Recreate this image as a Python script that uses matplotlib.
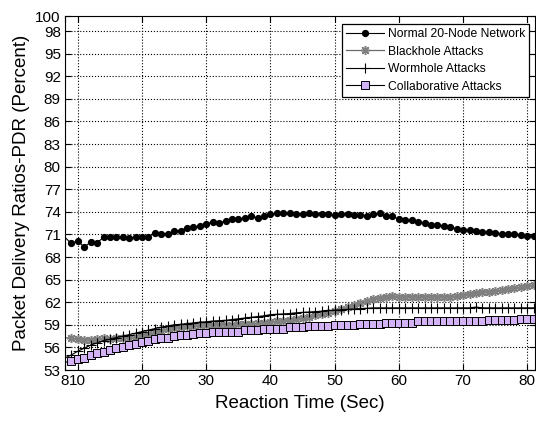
import numpy as np
import matplotlib
matplotlib.use('Agg')
import matplotlib.pyplot as plt

plt.rcParams['font.family'] = ['Liberation Sans', 'DejaVu Sans']

# reaction time, one sample per second
t = list(range(8, 82))

normal = [70.6, 69.8, 70.15, 69.3, 70.0, 69.9, 70.6, 70.7, 70.6, 70.7,
          70.5, 70.65, 70.6, 70.7, 71.25, 71.0, 71.1, 71.45, 71.5, 71.9,
          72.0, 72.1, 72.4, 72.7, 72.5, 72.8, 73.0, 73.0, 73.2, 73.4,
          73.2, 73.45, 73.7, 73.8, 73.9, 73.8, 73.75, 73.7, 73.8, 73.7,
          73.7, 73.7, 73.55, 73.7, 73.7, 73.6, 73.6, 73.5, 73.7, 73.8,
          73.4, 73.4, 73.0, 72.9, 72.9, 72.6, 72.5, 72.2, 72.2, 72.15,
          72.0, 71.75, 71.6, 71.6, 71.4, 71.3, 71.3, 71.25, 71.05, 71.1,
          71.0, 70.9, 70.75, 70.75]

blackhole = [57.3, 57.2, 57.1, 57.0, 57.0, 57.1, 57.2, 57.1, 57.2, 57.3,
             57.2, 57.4, 57.6, 57.8, 58.0, 58.2, 58.4, 58.6, 58.75, 58.85,
             58.9, 58.95, 59.0, 59.0, 59.0, 59.0, 59.0, 59.05, 59.1, 59.15,
             59.2, 59.25, 59.35, 59.45, 59.55, 59.7, 59.8, 59.95, 60.1, 60.25,
             60.4, 60.6, 60.85, 61.1, 61.35, 61.6, 61.9, 62.2, 62.45, 62.6,
             62.7, 62.8, 62.75, 62.75, 62.75, 62.75, 62.75, 62.75, 62.75, 62.75,
             62.75, 62.85, 63.0, 63.15, 63.25, 63.3, 63.4, 63.5, 63.6, 63.75,
             63.9, 64.0, 64.15, 64.3]

wormhole = [54.6, 55.0, 55.5, 55.9, 56.3, 56.6, 56.9, 57.1, 57.3, 57.5,
            57.7, 57.9, 58.1, 58.3, 58.5, 58.7, 58.85, 59.0, 59.05, 59.15,
            59.25, 59.35, 59.4, 59.5, 59.55, 59.6, 59.7, 59.8, 59.9, 60.0,
            60.1, 60.2, 60.35, 60.4, 60.45, 60.5, 60.6, 60.65, 60.7, 60.75,
            60.8, 60.9, 60.95, 61.0, 61.05, 61.1, 61.15, 61.2, 61.25, 61.25,
            61.25, 61.25, 61.25, 61.25, 61.25, 61.25, 61.25, 61.25, 61.25, 61.25,
            61.25, 61.25, 61.25, 61.25, 61.35, 61.25, 61.25, 61.25, 61.25, 61.25,
            61.25, 61.25, 61.25, 61.25]

collab = [54.0, 54.24, 54.46, 54.6, 54.95, 55.2, 55.4, 55.7, 55.9, 56.1,
          56.3, 56.5, 56.7, 56.9, 57.1, 57.2, 57.3, 57.55, 57.6, 57.7,
          57.8, 57.85, 57.95, 58.0, 58.0, 58.0, 58.0, 58.0, 58.3, 58.3,
          58.3, 58.5, 58.5, 58.5, 58.5, 58.7, 58.7, 58.7, 58.8, 58.8,
          58.8, 58.8, 59.0, 59.0, 59.0, 59.0, 59.1, 59.1, 59.1, 59.1,
          59.3, 59.3, 59.3, 59.3, 59.3, 59.45, 59.45, 59.45, 59.45, 59.45,
          59.55, 59.55, 59.55, 59.55, 59.55, 59.55, 59.65, 59.65, 59.65, 59.65,
          59.65, 59.8, 59.8, 59.8]

labels = ['Normal 20-Node Network', 'Blackhole Attacks',
          'Wormhole Attacks', 'Collaborative Attacks']
xticks = [8, 10, 20, 30, 40, 50, 60, 70, 80]
yticks = [53, 56, 59, 62, 65, 68, 71, 74, 77, 80, 83, 86, 89, 92, 95, 98, 100]

fig = plt.figure(figsize=(5.36, 4.23), dpi=100)
ax = fig.add_axes([65 / 536, 53 / 423, 470 / 536, 354 / 423])

mk = slice(1, None)
ax.plot(t, normal, '-', color='k', lw=0.8, marker='o', ms=4.2,
        mfc='k', mec='k', markevery=mk, label=labels[0])
ax.plot(t, blackhole, '-', color='0.42', lw=0.9, marker=(8, 2, 0), ms=6.5,
        mec='0.5', mew=1.1, markevery=mk, label=labels[1])
ax.plot(t, wormhole, '-', color='k', lw=0.8, marker='+', ms=7.5,
        mew=0.8, markevery=mk, label=labels[2])
ax.plot(t, collab, '-', color='k', lw=0.8, marker='s', ms=5.6,
        mfc='#d4b2f6', mec='k', mew=0.7, markevery=mk, label=labels[3])

ax.set_xlim(8, 81.2)
ax.set_ylim(53, 100)
ax.set_xticks(xticks)
ax.set_yticks(yticks)
ax.tick_params(direction='in', top=True, right=True, labelsize=11, length=4,
               pad=3)
ax.grid(True, linestyle=':', color='k', lw=0.8)
ax.set_axisbelow(True)
for s in ax.spines.values():
    s.set_linewidth(0.8)

ax.set_xlabel('Reaction Time (Sec)', fontsize=13.5, labelpad=5)
ax.set_ylabel('Packet Delivery Ratios-PDR (Percent)', fontsize=13.5, labelpad=4)

leg = ax.legend(loc='upper right', bbox_to_anchor=(529 / 536, 1 - 24 / 423),
                bbox_transform=fig.transFigure, fontsize=8.7, fancybox=False,
                framealpha=1, edgecolor='k', handlelength=3.15, borderpad=0.35,
                labelspacing=0.45, handletextpad=0.3, borderaxespad=0)
leg.get_frame().set_linewidth(0.9)

fig.savefig('out.png', dpi=100)
